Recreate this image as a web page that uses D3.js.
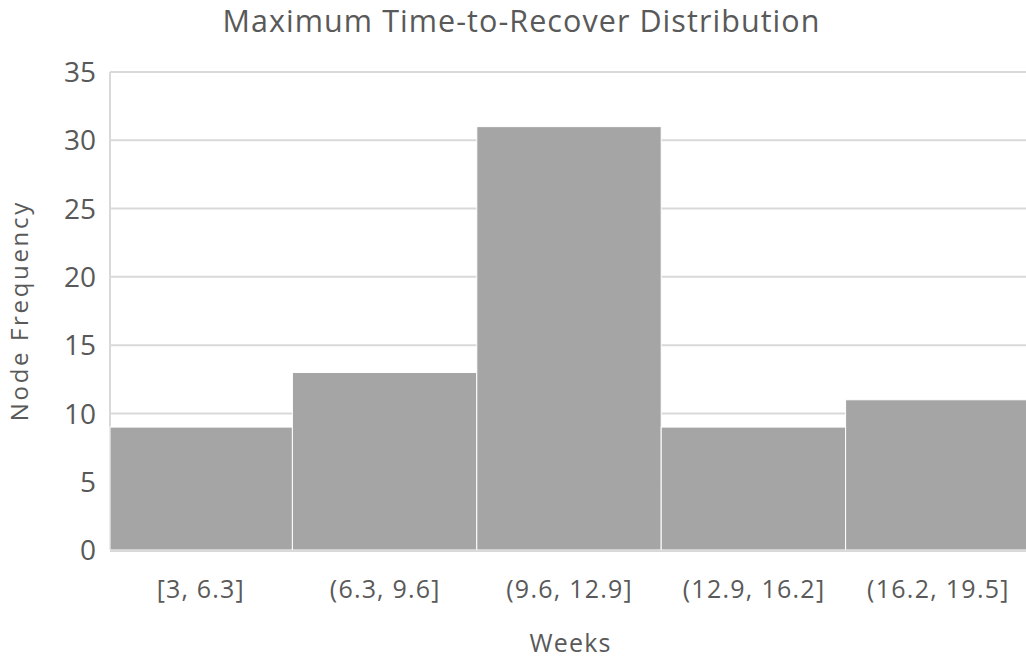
<!DOCTYPE html>
<html><head><meta charset="utf-8">
<script src="https://cdn.jsdelivr.net/npm/d3@7"></script>
<style>body{margin:0;background:#fff}text{font-family:"Open Sans",sans-serif;fill:#595959}</style>
</head><body><svg id="c" width="1026" height="660"></svg>
<script>
const categories = ["[3, 6.3]", "(6.3, 9.6]", "(9.6, 12.9]", "(12.9, 16.2]", "(16.2, 19.5]"];
const values = [9, 13, 31, 9, 11];
const yTicks = [0, 5, 10, 15, 20, 25, 30, 35];
const title = "Maximum Time-to-Recover Distribution";
const xTitle = "Weeks";
const yTitle = "Node Frequency";

const svg = d3.select("#c");
const L = 110, R = 1026, T = 72, B = 550;
const x = d3.scaleBand().domain(categories).range([108, 1030]).padding(0);
const y = d3.scaleLinear().domain([0, 35]).range([B, T]);

// widen text by letter spacing so its length matches a target
function spread(sel, target) {
  sel.each(function () {
    const n = this.textContent.length;
    const w = this.getComputedTextLength();
    const ls = (target - w) / Math.max(1, n);
    d3.select(this).attr("letter-spacing", ls);
    const dx = ls / 2;
    const t = d3.select(this);
    if (t.attr("text-anchor") === "middle") t.attr("dx", dx);
  });
}

// gridlines
svg.append("g").selectAll("line").data(yTicks.filter(d => d > 0)).join("line")
  .attr("x1", L).attr("x2", R).attr("y1", d => y(d)).attr("y2", d => y(d))
  .attr("stroke", "#d9d9d9").attr("stroke-width", 2);
svg.append("line").attr("x1", L).attr("x2", L).attr("y1", T).attr("y2", B)
  .attr("stroke", "#d9d9d9").attr("stroke-width", 2);

// bars
svg.append("g").selectAll("rect").data(values).join("rect")
  .attr("x", (d, i) => Math.max(L, x(categories[i])))
  .attr("width", (d, i) => x(categories[i]) + x.bandwidth() - Math.max(L, x(categories[i])))
  .attr("y", d => y(d)).attr("height", d => B - y(d))
  .attr("fill", "#a5a5a5").attr("stroke", "#ffffff").attr("stroke-width", 1);

// baseline
svg.append("line").attr("x1", L).attr("x2", R).attr("y1", B + 1).attr("y2", B + 1)
  .attr("stroke", "#d9d9d9").attr("stroke-width", 2);

// y tick labels
svg.append("g").selectAll("text").data(yTicks).join("text")
  .attr("x", 96).attr("y", d => y(d)).attr("dy", "0.36em")
  .attr("text-anchor", "end").attr("font-size", 28).text(d => d);

// x labels
const xl = svg.append("g").selectAll("text").data(categories).join("text")
  .attr("x", d => x(d) + x.bandwidth() / 2).attr("y", 598)
  .attr("text-anchor", "middle").attr("font-size", 25).text(d => d);
xl.each(function () {
  const w = this.getComputedTextLength();
  const ls = w * 0.12 / this.textContent.length;
  d3.select(this).attr("letter-spacing", ls).attr("dx", ls / 2);
});

const tt = svg.append("text").attr("x", 521).attr("y", 32).attr("text-anchor", "middle")
  .attr("font-size", 30.5).text(title);
spread(tt, 598);
const xt = svg.append("text").attr("x", 570).attr("y", 652).attr("text-anchor", "middle")
  .attr("font-size", 25).text(xTitle);
spread(xt, 82);
const yt = svg.append("text").attr("transform", "translate(28,312) rotate(-90)")
  .attr("text-anchor", "middle").attr("font-size", 24).text(yTitle);
spread(yt, 221);
</script></body></html>
